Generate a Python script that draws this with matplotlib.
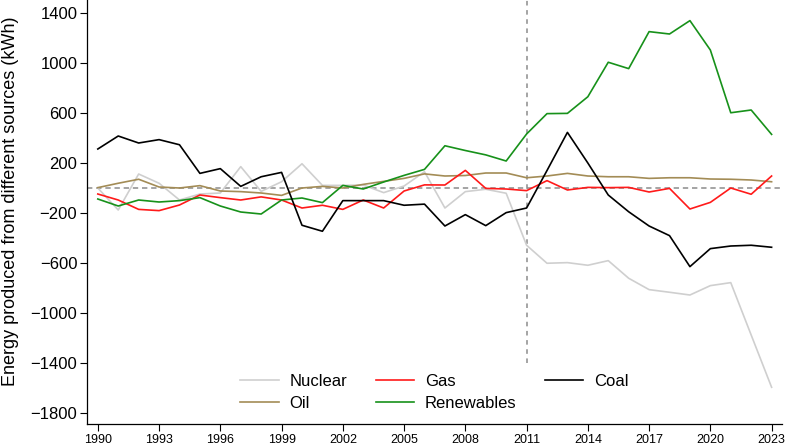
import matplotlib.pyplot as plt
import numpy as np

plt.rcParams['font.family'] = ['Liberation Sans', 'DejaVu Sans']

# Jahre 1990-2023
years = np.arange(1990, 2024)

nuclear = [0, -176, 112, 38, -96, -48, -40, 171, -27, 50,
           194, 21, 21, 24, -37, 16, 130, -160, -29, -10,
           -42, -458, -602, -597, -618, -581, -722, -813, -834, -856,
           -781, -757, -1176, -1594]
oil = [3, 38, 70, 8, 0, 19, -24, -29, -40, -59,
       0, 13, 0, 29, 53, 77, 113, 96, 100, 120,
       120, 82, 96, 117, 96, 90, 90, 77, 82, 82,
       72, 70, 64, 50]
gas = [-48, -96, -171, -181, -136, -56, -77, -96, -71, -96,
       -160, -138, -171, -96, -160, -24, 25, 24, 141, -3,
       -8, -21, 59, -16, 5, 3, 5, -32, -3, -168,
       -115, 0, -50, 96]
renewables = [-88, -144, -96, -112, -101, -77, -144, -192, -208, -96,
              -80, -117, 21, -8, 48, 101, 149, 338, 300, 265,
              216, 432, 595, 597, 730, 1006, 955, 1251, 1232, 1339,
              1104, 602, 624, 429]
coal = [312, 416, 360, 387, 346, 117, 155, 13, 90, 125,
        -298, -346, -101, -101, -101, -138, -129, -304, -213, -301,
        -197, -160, 140, 445, 200, -56, -190, -304, -381, -629,
        -485, -464, -458, -474]

fig = plt.figure(figsize=(7.88, 4.46), dpi=100)
ax = fig.add_axes([0.1104, 0.0493, 0.8820, 0.9507])

# Referenzlinien
ax.axhline(0, color='#8c8c8c', lw=1.1, ls=(0, (3.5, 2.5)), zorder=1)
ax.plot([2011, 2011], [-1400, 1600], color='#8c8c8c', lw=1.1, ls=(0, (3, 3)), zorder=1)

ax.plot(years, nuclear, color='#cfcfcf', lw=1.2, label='Nuclear')
ax.plot(years, oil, color='#a38c56', lw=1.2, label='Oil')
ax.plot(years, gas, color='#ff1a1a', lw=1.2, label='Gas')
ax.plot(years, renewables, color='#17911a', lw=1.2, label='Renewables')
ax.plot(years, coal, color='black', lw=1.2, label='Coal')

ax.set_xlim(1989.47, 2023.51)
ax.set_ylim(-1888, 1504)
ax.set_xticks(np.arange(1990, 2024, 3))
ax.set_yticks(np.arange(-1800, 1401, 400))
ax.tick_params(axis='x', labelsize=9, length=5, width=0.8, pad=2)
ax.tick_params(axis='y', labelsize=12, length=5, width=0.8, pad=2)
ax.set_ylabel('Energy produced from different sources (kWh)', fontsize=13)
ax.yaxis.set_label_coords(-0.098, 0.526)

for s in ['top', 'right']:
    ax.spines[s].set_visible(False)
for s in ['left', 'bottom']:
    ax.spines[s].set_linewidth(0.9)

ax.legend(loc='lower center', ncol=3, frameon=False, fontsize=12,
          handlelength=2.3, handletextpad=0.65, columnspacing=1.7,
          labelspacing=0.42, bbox_to_anchor=(0.5, -0.005))

fig.savefig('out.png', dpi=100)
